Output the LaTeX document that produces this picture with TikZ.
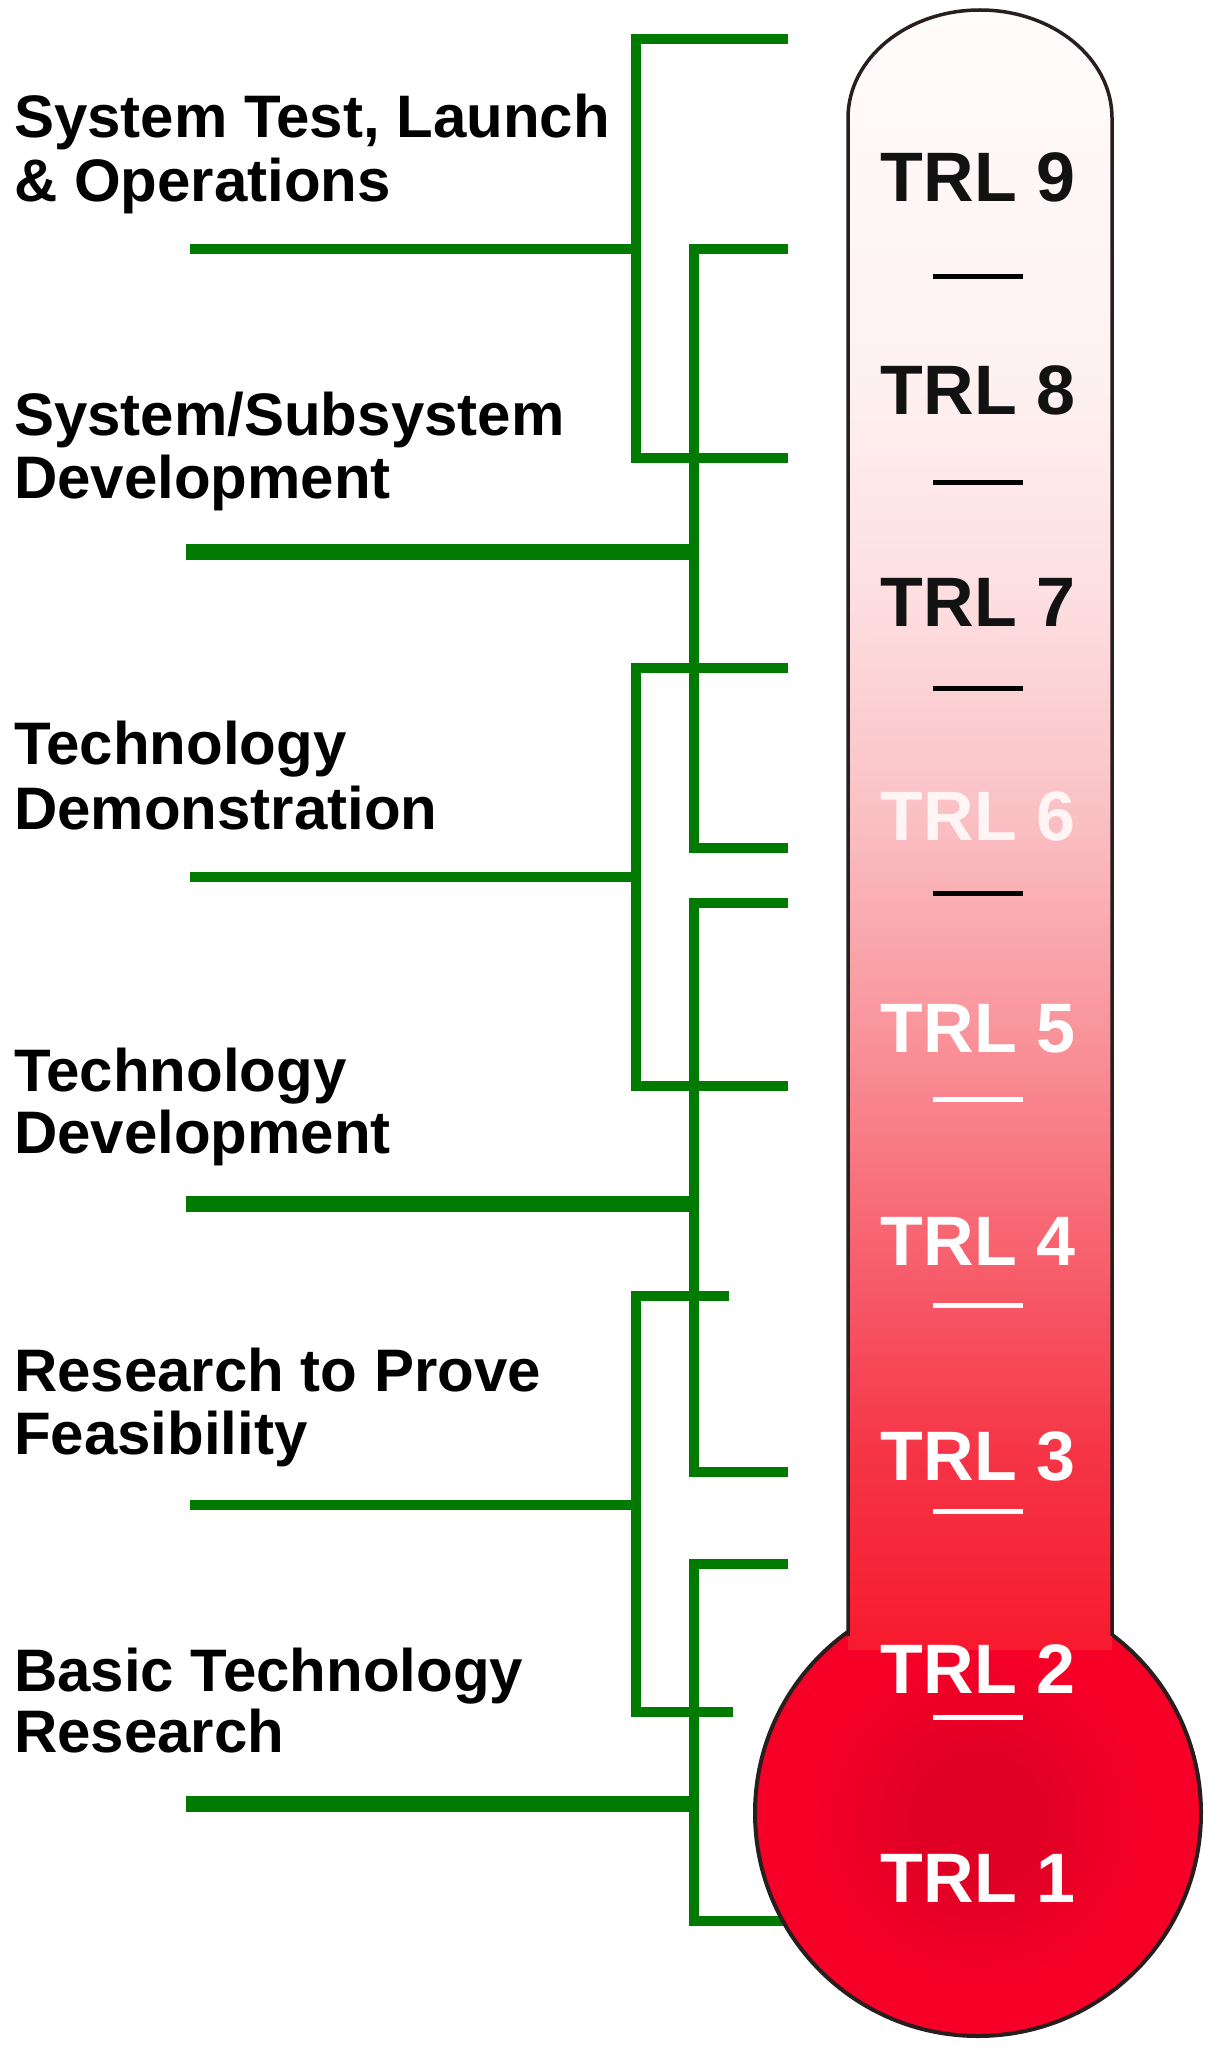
\documentclass[tikz,border=0pt]{standalone}
\usepackage{fontspec}
\setmainfont{Liberation Sans}
\definecolor{grn}{RGB}{0,122,0}
\definecolor{bulbred}{RGB}{246,0,40}
\definecolor{bulbdark}{RGB}{224,0,36}
\definecolor{outl}{RGB}{40,30,30}
\definecolor{t0}{RGB}{247,26,46}
\definecolor{t1}{RGB}{245,52,70}
\definecolor{t2}{RGB}{247,100,112}
\definecolor{t3}{RGB}{249,148,155}
\definecolor{t4}{RGB}{250,192,196}
\definecolor{t5}{RGB}{253,222,224}
\definecolor{t6}{RGB}{254,240,240}
\definecolor{t7}{RGB}{255,252,252}
\pgfdeclareverticalshading{tubesh}{100bp}{color(0bp)=(t0); color(25bp)=(t0); color(30.91bp)=(t1); color(37.47bp)=(t2); color(43.93bp)=(t3); color(50.43bp)=(t4); color(56.95bp)=(t5); color(63.41bp)=(t6); color(75bp)=(t7); color(100bp)=(t7)}
\pgfdeclareradialshading{bulbsh}{\pgfpoint{0bp}{-1bp}}{color(0bp)=(bulbdark); color(7bp)=(bulbdark); color(19bp)=(bulbred); color(50bp)=(bulbred)}
\begin{document}
\begin{tikzpicture}[x=1pt,y=-1pt,
  gline/.style={draw=grn, line width=10pt, line join=miter},
  gthick/.style={draw=grn, line width=16pt},
  lbl/.style={anchor=base west, inner sep=0pt, font=\fontsize{60}{64}\selectfont\bfseries, text=black},
  trl/.style={anchor=center, inner sep=0pt, font=\fontsize{70}{80}\selectfont\bfseries},
  tick/.style={line width=5pt}]
\fill[white] (0,0) rectangle (1220,2052);
\useasboundingbox (0,0) rectangle (1220,2052);

% label texts
\node[lbl] (l1a) at (14,138) {System Test, Launch};
\node[lbl] (l1b) at (14,202) {\& Operations};
\node[lbl] (l2a) at (14,435) {System/Subsystem};
\node[lbl] (l2b) at (14,498) {Development};
\node[lbl] (l3a) at (14,764) {Technology};
\node[lbl] (l3b) at (14,829) {Demonstration};
\node[lbl] (l4a) at (14,1091) {Technology};
\node[lbl] (l4b) at (14,1153) {Development};
\node[lbl] (l5a) at (14,1391) {Research to Prove};
\node[lbl] (l5b) at (14,1454) {Feasibility};
\node[lbl] (l6a) at (14,1691) {Basic Technology};
\node[lbl] (l6b) at (14,1752) {Research};

% bus coordinates
\coordinate (busL) at (636,0);
\coordinate (busR) at (694,0);
% stem starts
\coordinate (s1) at (190,249);
\coordinate (s2) at (186,552);
\coordinate (s3) at (190,877);
\coordinate (s4) at (186,1204);
\coordinate (s5) at (190,1505);
\coordinate (s6) at (186,1804);
% bracket ends
\coordinate (b1top) at (788,39);   \coordinate (b1bot) at (788,458);
\coordinate (b2top) at (788,249);  \coordinate (b2bot) at (788,848);
\coordinate (b3top) at (788,668);  \coordinate (b3bot) at (788,1086);
\coordinate (b4top) at (788,903);  \coordinate (b4bot) at (788,1472);
\coordinate (b5top) at (729,1296); \coordinate (b5bot) at (733,1712);
\coordinate (b6top) at (788,1564); \coordinate (b6bot) at (792,1921);

% green brackets
\draw[gline] (b1top) -- (b1top -| busL) |- (b1bot);
\draw[gline] (s1) -- (s1 -| busL);
\draw[gline] (b2top) -- (b2top -| busR) |- (b2bot);
\draw[gthick] (s2) -- (s2 -| busR);
\draw[gline] (b3top) -- (b3top -| busL) |- (b3bot);
\draw[gline] (s3) -- (s3 -| busL);
\draw[gline] (b4top) -- (b4top -| busR) |- (b4bot);
\draw[gthick] (s4) -- (s4 -| busR);
\draw[gline] (b5top) -- (b5top -| busL) |- (b5bot);
\draw[gline] (s5) -- (s5 -| busL);
\draw[gline] (b6top) -- (b6top -| busR) |- (b6bot);
\draw[gthick] (s6) -- (s6 -| busR);

% thermometer bulb
\shade[shading=bulbsh] (978,1813) circle (223);
\draw[outl, line width=4pt] (978,1813) circle (223);
% tube
\shade[shading=tubesh] (848,1650) -- (848,118) arc[start angle=180, end angle=360, x radius=132, y radius=108] -- (1112,1650) -- cycle;
\draw[outl, line width=3.5pt] (848,1636) -- (848,118) arc[start angle=180, end angle=360, x radius=132, y radius=108] -- (1112,1636);

% ticks
\foreach \y in {276,482,688,893} \draw[tick, black] (933,\y) -- (1023,\y);
\foreach \y in {1099,1305,1511,1717} \draw[tick, white] (933,\y) -- (1023,\y);

% TRL labels
\node[trl, text=black!93] (trl9) at (978,177) {TRL 9};
\node[trl, text=black!93] (trl8) at (978,390) {TRL 8};
\node[trl, text=black!93] (trl7) at (978,602) {TRL 7};
\node[trl, text=white!96!red] (trl6) at (978,816) {TRL 6};
\node[trl, text=white] (trl5) at (978,1029) {TRL 5};
\node[trl, text=white] (trl4) at (978,1241) {TRL 4};
\node[trl, text=white] (trl3) at (978,1456) {TRL 3};
\node[trl, text=white] (trl2) at (978,1669) {TRL 2};
\node[trl, text=white] (trl1) at (978,1878) {TRL 1};
\end{tikzpicture}
\end{document}
